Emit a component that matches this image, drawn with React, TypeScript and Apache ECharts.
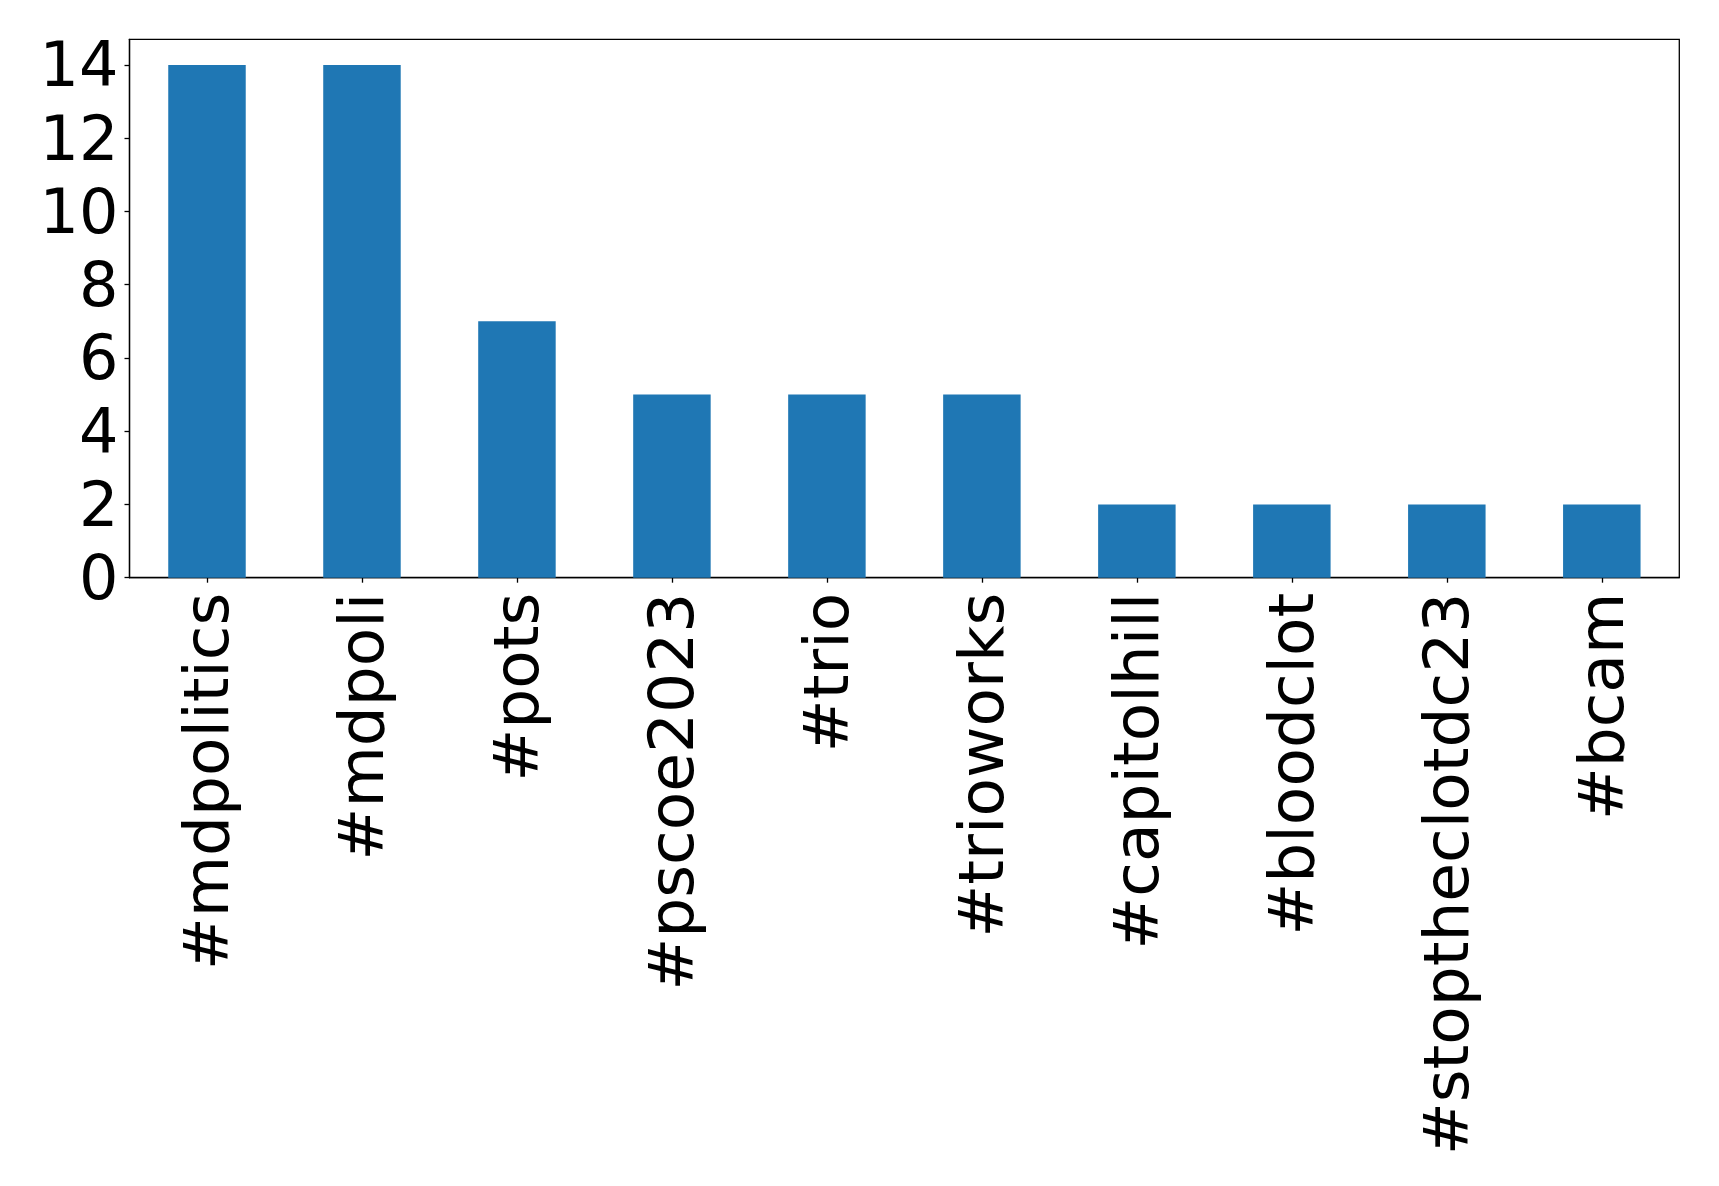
import React, { useEffect, useRef } from "react";
import * as echarts from "echarts";

const categories = [
  "#mdpolitics",
  "#mdpoli",
  "#pots",
  "#pscoe2023",
  "#trio",
  "#trioworks",
  "#capitolhill",
  "#bloodclot",
  "#stoptheclotdc23",
  "#bcam",
];
const counts = [14, 14, 7, 5, 5, 5, 2, 2, 2, 2];
const yMax = 14.7;
const yInterval = 2;

export default function App() {
  const ref = useRef<HTMLDivElement>(null);
  useEffect(() => {
    if (!ref.current) return;
    const chart = echarts.init(ref.current, null, { renderer: "svg" });
    const font = "DejaVu Sans";
    chart.setOption({
      animation: false,
      backgroundColor: "#ffffff",
      grid: {
        left: 129.5,
        top: 39.3,
        right: 39.7,
        bottom: 608.3,
        show: true,
        borderColor: "#000",
        borderWidth: 1.3,
        backgroundColor: "transparent",
      },
      xAxis: {
        type: "category",
        data: categories,
        boundaryGap: true,
        axisLine: { show: true, lineStyle: { color: "#000", width: 1.3 } },
        axisTick: { show: true, alignWithLabel: true, length: 5, lineStyle: { color: "#000", width: 1.3 } },
        axisLabel: {
          rotate: 90,
          interval: 0,
          margin: 15,
          color: "#000",
          fontSize: 63,
          fontFamily: font,
        },
        splitLine: { show: false },
      },
      yAxis: {
        type: "value",
        min: 0,
        max: yMax,
        interval: yInterval,
        axisLine: { show: true, lineStyle: { color: "#000", width: 1.3 } },
        axisTick: { show: true, length: 5, lineStyle: { color: "#000", width: 1.3 } },
        axisLabel: {
          margin: 11,
          color: "#000",
          fontSize: 62,
          fontFamily: font,
          showMaxLabel: false,
          formatter: (v: number) => (Number.isInteger(v) ? String(v) : ""),
        },
        splitLine: { show: false },
      },
      series: [
        {
          type: "bar",
          data: counts,
          barWidth: "50%",
          itemStyle: { color: "#1f77b4" },
        },
      ],
    });
    return () => chart.dispose();
  }, []);
  return (
    <div
      ref={ref}
      style={{ position: "fixed", left: 0, top: 0, width: 1719, height: 1186, background: "#fff" }}
    />
  );
}
